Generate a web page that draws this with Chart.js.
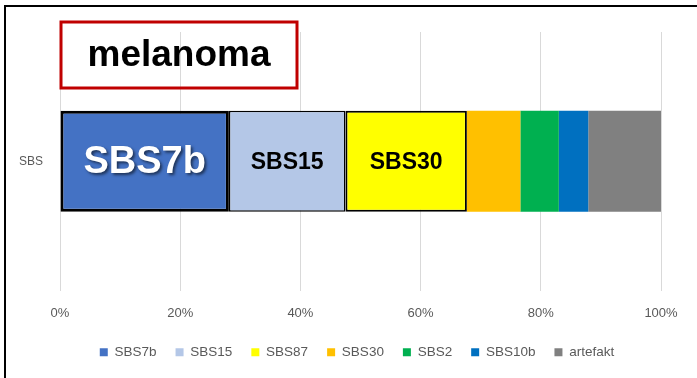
<!DOCTYPE html>
<html>
<head>
<meta charset="utf-8">
<script src="https://cdn.jsdelivr.net/npm/chart.js@4/dist/chart.umd.min.js"></script>
<style>
  html, body { margin: 0; padding: 0; background: #fff; }
  #wrap { position: relative; width: 697px; height: 378px; overflow: hidden; }
  #frame { position: absolute; left: 4px; top: 5px; right: -10px; bottom: -10px;
           border-top: 2px solid #000; border-left: 2px solid #000; pointer-events: none; }
  canvas { position: absolute; left: 0; top: 0; }
</style>
</head>
<body>
<div id="wrap">
  <canvas id="chart" width="697" height="378"></canvas>
  <div id="frame"></div>
</div>
<script>
const categories = ['SBS'];
const seriesNames = ['SBS7b', 'SBS15', 'SBS87', 'SBS30', 'SBS2', 'SBS10b', 'artefakt'];
const seriesValues = [28.1, 19.4, 20.2, 8.9, 6.4, 4.9, 12.1];
const barLabels = ['SBS7b', 'SBS15', 'SBS30', '', '', '', ''];
const tickValues = [0, 20, 40, 60, 80, 100];
const titleText = 'melanoma';

const colors = ['#4472C4', '#B4C7E7', '#FFFF00', '#FFC000', '#00B050', '#0070C0', '#808080'];
const borders = [3, 1.5, 2, 0, 0, 0, 0];
const FONT = '"Liberation Sans", Arial, sans-serif';

// label style per segment: big white for the first, black for the rest
const labelStyle = [
  { size: 38, color: '#fff', shadow: true },
  { size: 23, color: '#000', shadow: false },
  { size: 23, color: '#000', shadow: false }
];

const segmentLabels = {
  id: 'segmentLabels',
  afterDatasetsDraw(chart) {
    const ctx = chart.ctx;
    ctx.save();
    ctx.textAlign = 'center';
    ctx.textBaseline = 'middle';
    chart.data.datasets.forEach((ds, i) => {
      const text = barLabels[i];
      if (!text) return;
      const bar = chart.getDatasetMeta(i).data[0];
      const st = labelStyle[i];
      const cx = (bar.x + bar.base) / 2;
      ctx.font = 'bold ' + st.size + 'px ' + FONT;
      if (st.shadow) {
        ctx.shadowColor = 'rgba(0,0,0,0.55)';
        ctx.shadowOffsetX = 2;
        ctx.shadowOffsetY = 2;
        ctx.shadowBlur = 3;
      } else {
        ctx.shadowColor = 'transparent';
      }
      ctx.fillStyle = st.color;
      ctx.fillText(text, cx, bar.y + 1);
    });
    ctx.restore();
  }
};

const titleBox = {
  id: 'titleBox',
  afterDraw(chart) {
    const ctx = chart.ctx;
    const left = chart.chartArea.left + 1;
    ctx.save();
    ctx.strokeStyle = '#C00000';
    ctx.lineWidth = 3;
    ctx.strokeRect(left, 22, 236, 66);
    ctx.fillStyle = '#000';
    ctx.font = 'bold 37px ' + FONT;
    ctx.textAlign = 'center';
    ctx.textBaseline = 'middle';
    ctx.fillText(titleText, left + 118, 56);
    ctx.restore();
  }
};

new Chart(document.getElementById('chart'), {
  type: 'bar',
  data: {
    labels: categories,
    datasets: seriesNames.map((name, i) => ({
      label: name,
      data: [seriesValues[i]],
      backgroundColor: colors[i],
      borderColor: '#000',
      borderWidth: borders[i],
      borderSkipped: false,
      barPercentage: 0.39,
      categoryPercentage: 1
    }))
  },
  options: {
    indexAxis: 'y',
    responsive: false,
    animation: false,
    layout: { padding: { left: 17, right: 0, top: 32, bottom: 9 } },
    plugins: {
      tooltip: { enabled: false },
      legend: {
        position: 'bottom',
        labels: {
          boxWidth: 8,
          boxHeight: 8,
          padding: 19,
          color: '#595959',
          font: { family: FONT, size: 13.5 },
          // plain filled squares, no outline from the bar borders
          generateLabels: chart =>
            Chart.defaults.plugins.legend.labels.generateLabels(chart).map(l =>
              Object.assign(l, { lineWidth: 0, strokeStyle: l.fillStyle }))
        }
      }
    },
    scales: {
      x: {
        stacked: true,
        min: 0,
        max: 100,
        afterBuildTicks: s => { s.ticks = tickValues.map(v => ({ value: v })); },
        ticks: {
          padding: 15,
          color: '#595959',
          font: { family: FONT, size: 13 },
          callback: v => v + '%'
        },
        grid: { color: '#D9D9D9', lineWidth: 1, drawTicks: false },
        border: { display: false },
        afterFit: s => { s.height = 36; }
      },
      y: {
        stacked: true,
        ticks: {
          padding: 17,
          color: '#595959',
          font: { family: FONT, size: 12 }
        },
        grid: { display: false, drawTicks: false },
        border: { display: false },
        afterFit: s => { s.width = 43; }
      },
      yPad: {
        type: 'category',
        position: 'right',
        display: true,
        ticks: { display: false },
        grid: { display: false, drawTicks: false },
        border: { display: false },
        afterFit: s => { s.width = 36; }
      }
    }
  },
  plugins: [segmentLabels, titleBox]
});
</script>
</body>
</html>
